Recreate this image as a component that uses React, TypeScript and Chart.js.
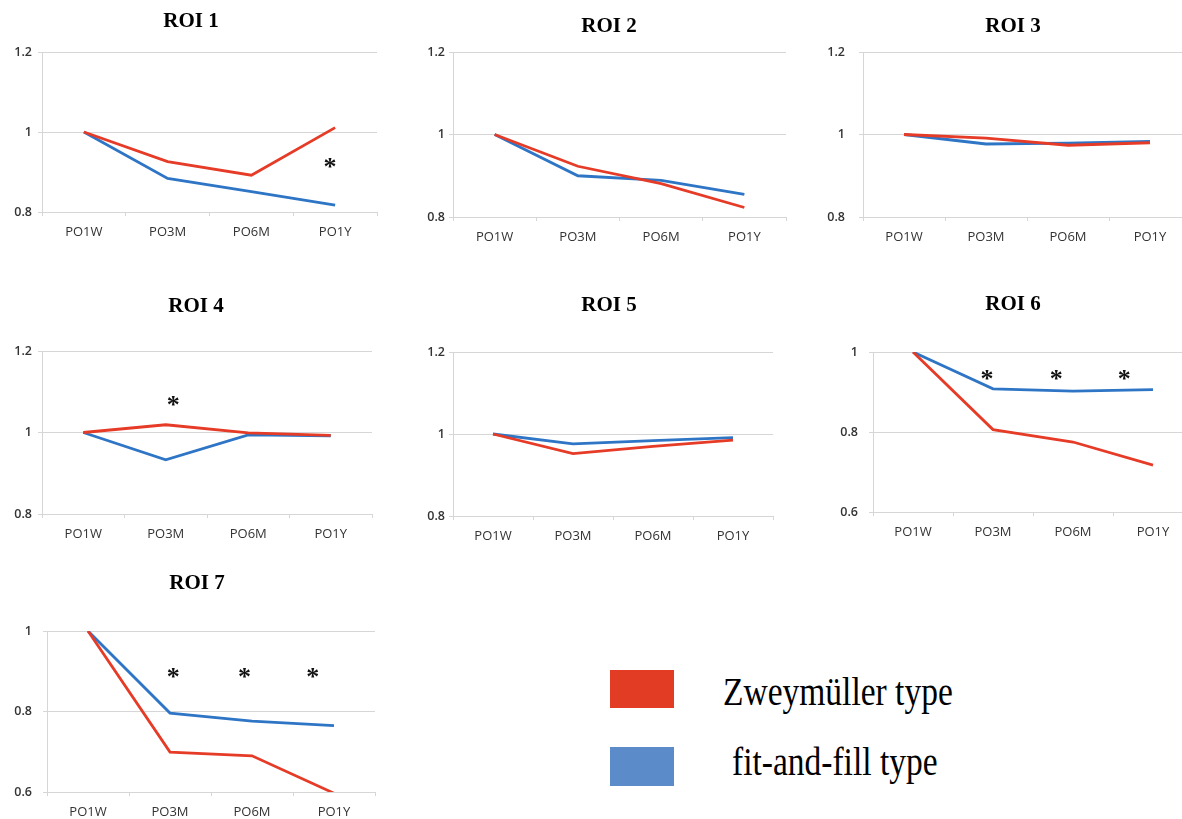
import React, { useEffect, useRef } from 'react';
import { Chart, registerables } from 'chart.js';

Chart.register(...registerables);

// ---------- data ----------
const categories = ['PO1W', 'PO3M', 'PO6M', 'PO1Y'];
const seriesNames = ['Zweymüller type', 'fit-and-fill type'];

const roi1Zweymuller = [1, 0.926, 0.892, 1.011];
const roi1FitFill = [1, 0.884, 0.851, 0.817];
const roi2Zweymuller = [1, 0.923, 0.881, 0.823];
const roi2FitFill = [1, 0.9, 0.889, 0.855];
const roi3Zweymuller = [1, 0.991, 0.974, 0.98];
const roi3FitFill = [1, 0.977, 0.979, 0.983];
const roi4Zweymuller = [1, 1.019, 0.999, 0.993];
const roi4FitFill = [1, 0.933, 0.994, 0.992];
const roi5Zweymuller = [1, 0.952, 0.97, 0.985];
const roi5FitFill = [1, 0.976, 0.984, 0.991];
const roi6Zweymuller = [1, 0.806, 0.775, 0.717];
const roi6FitFill = [1, 0.908, 0.902, 0.906];
const roi7Zweymuller = [1, 0.699, 0.69, 0.597];
const roi7FitFill = [1, 0.796, 0.776, 0.765];

// significance markers: [category index (fractional), value]
const roi1Stars = [[2.94, 0.9225]];
const roi4Stars = [[1.09, 1.078]];
const roi6Stars = [[0.925, 0.942], [1.79, 0.942], [2.64, 0.942]];
const roi7Stars = [[1.04, 0.895], [1.91, 0.895], [2.74, 0.895]];

const range12 = [0.8, 1.2];
const range10 = [0.6, 1.0];

// ---------- styles / layout ----------
const RED = '#e63b27';
const BLUE = '#2e75c6';
const GRID = '#d6d6d6';
const TICK_COLOR = '#333333';

const panels = [
  { title: 'ROI 1', red: roi1Zweymuller, blue: roi1FitFill, stars: roi1Stars, range: range12, left: 42, right: 377, top: 52, bottom: 212, titleX: 191, titleY: 22, gap: 10 },
  { title: 'ROI 2', red: roi2Zweymuller, blue: roi2FitFill, stars: [], range: range12, left: 453, right: 786, top: 52, bottom: 217, titleX: 609, titleY: 27, gap: 8 },
  { title: 'ROI 3', red: roi3Zweymuller, blue: roi3FitFill, stars: [], range: range12, left: 863, right: 1191, top: 52, bottom: 217, titleX: 1013, titleY: 27, gap: 18 },
  { title: 'ROI 4', red: roi4Zweymuller, blue: roi4FitFill, stars: roi4Stars, range: range12, left: 42, right: 372, top: 351, bottom: 514, titleX: 196, titleY: 307, gap: 10 },
  { title: 'ROI 5', red: roi5Zweymuller, blue: roi5FitFill, stars: [], range: range12, left: 453, right: 773, top: 352, bottom: 516, titleX: 609, titleY: 306, gap: 8 },
  { title: 'ROI 6', red: roi6Zweymuller, blue: roi6FitFill, stars: roi6Stars, range: range10, left: 873, right: 1193, top: 352, bottom: 512, titleX: 1013, titleY: 305, gap: 15 },
  { title: 'ROI 7', red: roi7Zweymuller, blue: roi7FitFill, stars: roi7Stars, range: range10, left: 47, right: 375, top: 631, bottom: 792, titleX: 197, titleY: 584, gap: 15 },
];

const starPlugin = {
  id: 'stars',
  afterDatasetsDraw(chart: any, _args: any, opts: any) {
    const pts = (opts && opts.points) || [];
    const ctx = chart.ctx;
    ctx.save();
    ctx.fillStyle = '#111';
    ctx.font = 'bold 26px "Liberation Serif", serif';
    ctx.textAlign = 'center';
    ctx.textBaseline = 'alphabetic';
    for (const [xi, yv] of pts) {
      const x = chart.scales.x.getPixelForValue(xi);
      const y = chart.scales.y.getPixelForValue(yv);
      ctx.fillText('*', x, y + 12);
    }
    ctx.restore();
  },
};

function MiniChart({ p }: { p: any }) {
  const ref = useRef<HTMLCanvasElement>(null);
  const boxL = Math.min(2 * p.titleX - p.right, p.left - 42);
  const yw = p.left - boxL;
  const rw = Math.max(0, 2 * p.titleX - boxL - p.right);
  const canvasLeft = boxL;
  const canvasTop = Math.round(p.titleY - 13);
  const pt = p.titleY - 12.6 - canvasTop;
  const pb = p.top - canvasTop - pt - 25.2;
  const xh = 40;
  const W = p.right + rw - canvasLeft;
  const H = Math.round(p.bottom + xh - canvasTop);
  const tickLen = 4;

  useEffect(() => {
    if (!ref.current) return;
    const chart = new Chart(ref.current, {
      type: 'line',
      data: {
        labels: categories,
        datasets: [
          { label: seriesNames[0], data: p.red, borderColor: RED, backgroundColor: RED, borderWidth: 2.8, pointRadius: 0, tension: 0, fill: false },
          { label: seriesNames[1], data: p.blue, borderColor: BLUE, backgroundColor: BLUE, borderWidth: 2.8, pointRadius: 0, tension: 0, fill: false },
        ],
      },
      options: {
        responsive: false,
        animation: false,
        events: [],
        layout: { padding: 0 },
        plugins: {
          legend: { display: false },
          tooltip: { enabled: false },
          title: {
            display: true,
            text: p.title,
            color: '#000',
            font: { family: '"Liberation Serif", serif', size: 21, weight: 'bold', lineHeight: 1.2 },
            padding: { top: pt, bottom: pb },
          },
          stars: { points: p.stars },
        } as any,
        scales: {
          x: {
            type: 'category',
            offset: true,
            grid: { offset: true, drawOnChartArea: false, drawTicks: true, tickLength: tickLen, color: GRID },
            border: { display: true, color: GRID },
            ticks: { color: TICK_COLOR, font: { family: '"Open Sans", sans-serif', size: 13 }, padding: 8, maxRotation: 0, autoSkip: false },
            afterFit: (s: any) => { s.height = xh; },
          },
          y: {
            min: p.range[0],
            max: p.range[1],
            grid: { color: GRID, drawTicks: true, tickLength: tickLen },
            border: { display: true, color: GRID },
            ticks: {
              stepSize: 0.2,
              color: TICK_COLOR,
              font: { family: '"Open Sans", sans-serif', size: 12.5, weight: '600' },
              padding: p.gap - tickLen,
              callback: (v: any) => String(parseFloat(Number(v).toFixed(2))),
            },
            afterFit: (s: any) => { s.width = yw; },
          },
          spacer: {
            type: 'linear',
            position: 'right',
            display: true,
            grid: { display: false, drawTicks: false },
            border: { display: false },
            ticks: { display: false },
            afterFit: (s: any) => { s.width = rw; },
          },
        } as any,
      },
      plugins: [starPlugin],
    });
    return () => chart.destroy();
  }, []);

  return (
    <canvas
      ref={ref}
      width={W}
      height={H}
      style={{ position: 'absolute', left: canvasLeft, top: canvasTop, width: W, height: H }}
    />
  );
}

const legendText: React.CSSProperties = {
  position: 'absolute',
  fontFamily: '"Liberation Serif", serif',
  fontSize: 33.5,
  lineHeight: '33.5px',
  color: '#000',
  whiteSpace: 'nowrap',
  transform: 'scaleY(1.22)',
  transformOrigin: '0 28px',
};

export default function App() {
  return (
    <div style={{ position: 'absolute', left: 0, top: 0, width: 1182, height: 819, overflow: 'hidden', background: '#fff' }}>
      {panels.map((p) => (
        <MiniChart key={p.title} p={p} />
      ))}
      <div style={{ position: 'absolute', left: 610, top: 670, width: 64, height: 38, background: '#e23d24' }} />
      <div style={{ position: 'absolute', left: 610, top: 747, width: 64, height: 39, background: '#5b8bc9' }} />
      <div style={{ ...legendText, left: 723, top: 677 }}>{seriesNames[0]}</div>
      <div style={{ ...legendText, left: 732, top: 747 }}>{seriesNames[1]}</div>
    </div>
  );
}
